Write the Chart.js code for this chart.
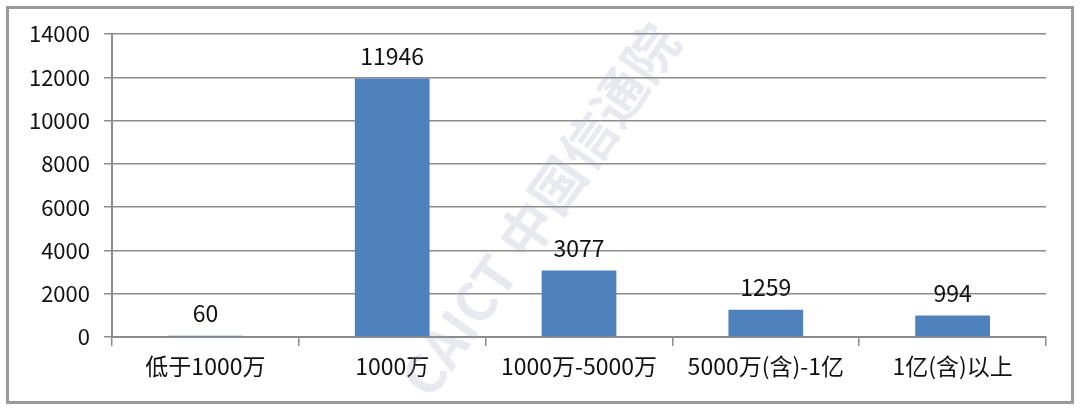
<!DOCTYPE html>
<html>
<head>
<meta charset="utf-8">
<script src="https://cdn.jsdelivr.net/npm/chart.js@4/dist/chart.umd.min.js"></script>
<style>
  html,body{margin:0;padding:0;background:#fff;}
  #wrap{position:relative;width:1080px;height:410px;}
</style>
</head>
<body>
<div id="wrap"><canvas id="c" width="1080" height="410"></canvas></div>
<script>
// categories and values
const categories = ["低于1000万", "1000万", "1000万-5000万", "5000万(含)-1亿", "1亿(含)以上"];
const counts = [60, 11946, 3077, 1259, 994];
const yTicks = [0, 2000, 4000, 6000, 8000, 10000, 12000, 14000];

const FONT = "'Noto Sans CJK SC', 'Noto Sans', sans-serif";
const GRID = "#8c8c8c";

// frame round the whole picture
const framePlugin = {
  id: "frame",
  afterDraw(chart){
    const c = chart.ctx;
    c.save(); c.strokeStyle = "#9a9a9a"; c.lineWidth = 3;
    c.strokeRect(7.5, 7.5, 1065, 395);
    c.restore();
  }
};

// value labels over bars
const valuePlugin = {
  id: "values",
  afterDatasetsDraw(chart){
    const c = chart.ctx; const meta = chart.getDatasetMeta(0);
    c.save(); c.font = "23px " + FONT; c.fillStyle = "#111"; c.textAlign = "center"; c.textBaseline = "bottom";
    meta.data.forEach((bar, i)=>{ c.fillText(String(counts[i]), bar.x, bar.y - 11); });
    c.restore();
  }
};

// faint diagonal watermark
const markPlugin = {
  id: "mark",
  beforeDatasetsDraw(chart){
    const c = chart.ctx;
    c.save(); c.translate(540, 210); c.rotate(-55 * Math.PI / 180);
    c.font = "bold 54px " + FONT; c.textAlign = "center"; c.textBaseline = "middle";
    c.fillStyle = "rgba(150,158,185,0.22)";
    c.fillText("CAICT 中国信通院", 0, 0);
    c.restore();
  }
};

new Chart(document.getElementById("c"), {
  type: "bar",
  data: { labels: categories, datasets: [{ data: counts, backgroundColor: "#4f81bd", borderWidth: 0, barPercentage: 0.4, categoryPercentage: 1 }] },
  plugins: [markPlugin, valuePlugin, framePlugin],
  options: {
    responsive: false, animation: false, devicePixelRatio: 1,
    layout: { padding: { left: 0, right: 34, top: 34, bottom: 0 } },
    plugins: { legend: { display: false }, tooltip: { enabled: false } },
    scales: {
      x: {
        grid: { drawOnChartArea: false, drawTicks: true, tickLength: 9, offset: true, color: GRID, lineWidth: 1.5 },
        border: { color: GRID, width: 2 },
        ticks: { color: "#111", font: { family: FONT, size: 23 }, padding: 6, maxRotation: 0 },
        afterFit(s){ s.height = 73; }
      },
      y: {
        min: 0, max: 14000,
        afterBuildTicks(s){ s.ticks = yTicks.map(v=>({ value: v })); },
        grid: { color: GRID, lineWidth: 1.5, tickLength: 8 },
        border: { color: GRID, width: 2 },
        ticks: { color: "#111", font: { family: FONT, size: 22 }, padding: 14, callback: v => String(v) },
        afterFit(s){ s.width = 112; }
      }
    }
  }
});
</script>
</body>
</html>
